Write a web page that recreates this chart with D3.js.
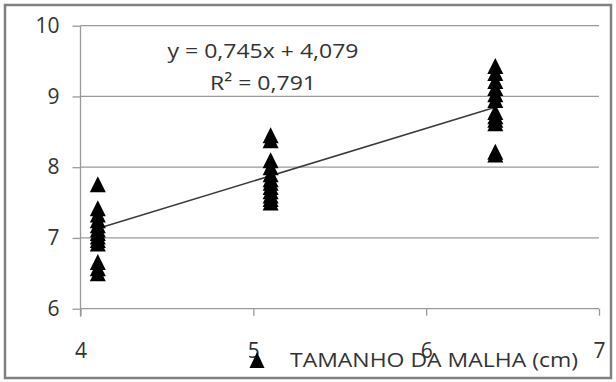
<!DOCTYPE html>
<html>
<head>
<meta charset="utf-8">
<script src="https://cdn.jsdelivr.net/npm/d3@7"></script>
<style>
  body { margin: 0; background: #fff; }
  svg { display: block; font-family: "Open Sans", sans-serif; }
</style>
</head>
<body>
<div id="chart"></div>
<script>
// mesh size (cm) groups and the measured values in each group
const meshSizes = [4.1, 5.1, 6.4];
const valuesA = [7.76, 7.42, 7.33, 7.25, 7.18, 7.12, 7.07, 7.02, 6.97, 6.92, 6.66, 6.57, 6.5];
const valuesB = [8.45, 8.38, 8.1, 8.0, 7.9, 7.83, 7.78, 7.72, 7.66, 7.6, 7.55, 7.5];
const valuesC = [9.43, 9.33, 9.22, 9.12, 9.03, 8.95, 8.78, 8.72, 8.67, 8.62, 8.22, 8.18];
const xTicks = [4, 5, 6, 7];
const yTicks = [6, 7, 8, 9, 10];
const slope = 0.745, intercept = 4.079;
const equationLines = ["y = 0,745x + 4,079", "R² = 0,791"];
const legendLabel = "TAMANHO DA MALHA (cm)";

const width = 616, height = 382;
const points = meshSizes.flatMap((m, i) => [valuesA, valuesB, valuesC][i].map(v => ({x: m, y: v})));

const x = d3.scaleLinear().domain([4, 7]).range([80.5, 599]);
const y = d3.scaleLinear().domain([6, 10]).range([308.7, 25.7]);

const svg = d3.select("#chart").append("svg")
    .attr("width", width)
    .attr("height", height);

// outer frame
svg.append("rect")
    .attr("x", 5).attr("y", 5)
    .attr("width", 606).attr("height", 373)
    .attr("fill", "#fff")
    .attr("stroke", "#808080")
    .attr("stroke-width", 2.5);

// horizontal gridlines
svg.append("g")
  .selectAll("line")
  .data(yTicks.filter(d => d > 6))
  .join("line")
    .attr("x1", x(4)).attr("x2", x(7))
    .attr("y1", d => y(d)).attr("y2", d => y(d))
    .attr("stroke", "#9a9a9a")
    .attr("stroke-width", 1.3);

// y axis
const yAxis = svg.append("g")
    .attr("transform", `translate(${x(4)},0)`)
    .call(d3.axisLeft(y).tickValues(yTicks).tickSize(8).tickPadding(13).tickFormat(d3.format("d")));
yAxis.select(".domain").attr("stroke", "#9a9a9a").attr("stroke-width", 1.3).attr("d", `M0,${y(10)}V${y(6) + 8}`);
yAxis.selectAll(".tick line").attr("stroke", "#9a9a9a").attr("stroke-width", 1.3);
yAxis.selectAll(".tick text")
    .attr("fill", "#333")
    .style("font-size", "21px")
    .style("font-family", "Open Sans, sans-serif");

// x axis
const xAxis = svg.append("g")
    .attr("transform", `translate(0,${y(6)})`)
    .call(d3.axisBottom(x).tickValues(xTicks).tickSize(7).tickPadding(27).tickFormat(d3.format("d")));
xAxis.select(".domain").attr("stroke", "#9a9a9a").attr("stroke-width", 1.3).attr("d", `M${x(4)},0H${x(7)}`);
xAxis.selectAll(".tick line").attr("stroke", "#9a9a9a").attr("stroke-width", 1.3);
xAxis.selectAll(".tick text")
    .attr("fill", "#333")
    .style("font-size", "21px")
    .style("font-family", "Open Sans, sans-serif");

// linear trend line
const xMin = d3.min(meshSizes), xMax = d3.max(meshSizes);
svg.append("line")
    .attr("x1", x(xMin)).attr("y1", y(slope * xMin + intercept))
    .attr("x2", x(xMax)).attr("y2", y(slope * xMax + intercept))
    .attr("stroke", "#3a3a3a")
    .attr("stroke-width", 1.5);

// triangle markers
const tri = (w, h) => `M0,${-h / 2}L${w / 2},${h / 2}L${-w / 2},${h / 2}Z`;
svg.append("g")
  .selectAll("path")
  .data(points)
  .join("path")
    .attr("transform", d => `translate(${x(d.x)},${y(d.y)})`)
    .attr("d", tri(16, 16))
    .attr("fill", "#000");

// equation text
const eqLengths = [191, 106];
svg.append("g")
  .selectAll("text")
  .data(equationLines)
  .join("text")
    .attr("x", 263)
    .attr("y", (d, i) => 58 + i * 32)
    .attr("text-anchor", "middle")
    .attr("fill", "#333")
    .attr("textLength", (d, i) => eqLengths[i])
    .attr("lengthAdjust", "spacingAndGlyphs")
    .style("font-size", "20px")
    .text(d => d);

// legend
const legend = svg.append("g").attr("transform", "translate(257,360)");
legend.append("path").attr("d", tri(15, 16)).attr("fill", "#000");
legend.append("text")
    .attr("x", 33)
    .attr("y", 7)
    .attr("fill", "#333")
    .attr("textLength", 288)
    .attr("lengthAdjust", "spacingAndGlyphs")
    .style("font-size", "20px")
    .text(legendLabel);
</script>
</body>
</html>
